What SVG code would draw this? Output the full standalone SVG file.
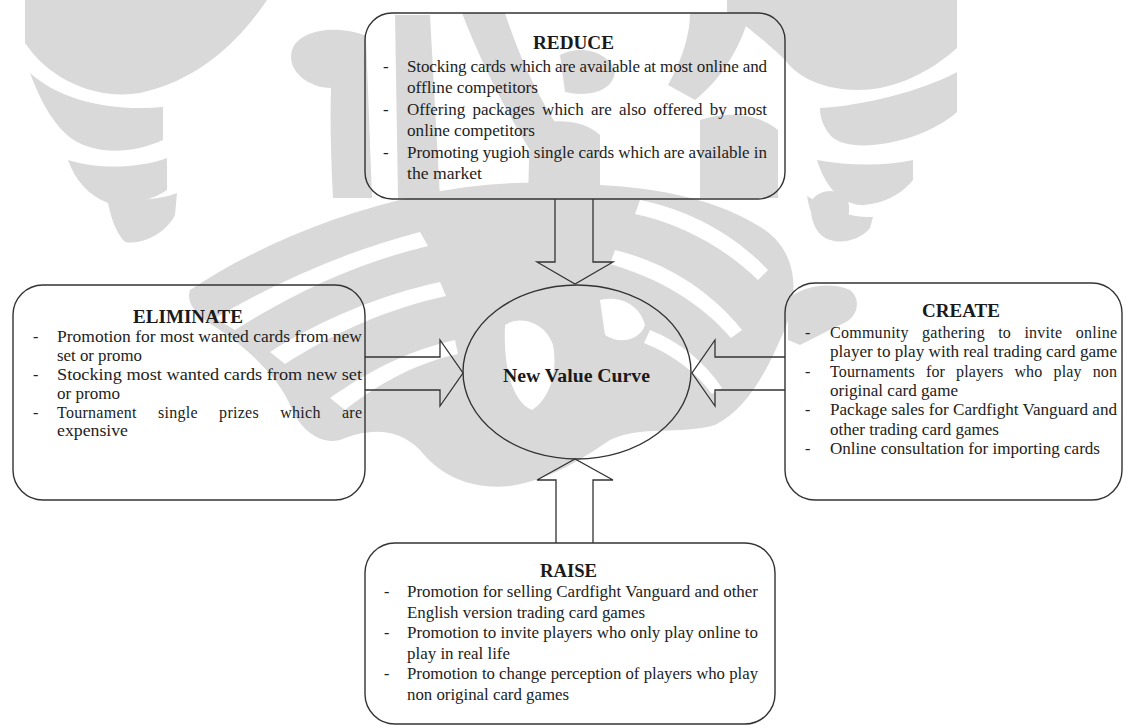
<svg xmlns="http://www.w3.org/2000/svg" width="1127" height="728" viewBox="0 0 1127 728">
  <style>
    .wm { fill: #d9d9d9; }
    .wmcut { fill: #ffffff; }
    .box { fill: none; stroke: #333333; stroke-width: 1.4; }
    .arrow { fill: none; stroke: #333333; stroke-width: 1.3; stroke-linejoin: miter; }
    .title { font-family: "Liberation Serif", "Times New Roman", serif; font-weight: bold; font-size: 18px; fill: #1a1a1a; }
    .body { font-family: "Liberation Serif", "Times New Roman", serif; font-size: 16px; fill: #222222; }
    .big { font-size: 17px; }
  </style>

  <rect width="1127" height="728" fill="#ffffff"/>

  <!-- faint emblem behind the chart -->
  <g id="watermark">
    <!-- left wing -->
    <path class="wm" d="M25,0 H267 C240,40 200,80 140,93 C95,100 50,80 25,43 Z"/>
    <path class="wm" d="M30,73 C60,100 110,112 163,107 L163,140 C130,155 90,155 67,135 C50,120 38,95 30,73 Z"/>
    <path class="wm" d="M68,160 C100,170 140,168 167,158 L167,190 C150,202 120,207 108,203 C88,195 75,180 68,160 Z"/>
    <path class="wm" d="M107,197 C130,202 160,200 177,193 L175,215 C165,235 140,245 125,242 C115,232 110,215 107,197 Z"/>
    <!-- right wing -->
    <path class="wm" d="M727,0 H957 V48 C930,72 895,90 858,90 C825,90 798,78 785,60 C770,45 745,25 727,12 Z"/>
    <path class="wm" d="M820,108 C860,106 920,92 957,72 V112 C940,127 915,138 888,143 C860,148 840,145 831,136 C823,127 820,117 820,108 Z"/>
    <path class="wm" d="M817,160 C850,166 885,166 913,160 V180 C900,196 880,205 860,205 C840,203 825,186 817,160 Z"/>
    <path class="wm" d="M807,196 C830,210 852,218 873,217 L870,228 C860,240 842,244 831,240 C818,231 810,215 807,196 Z"/>
    <!-- upper figure -->
    <path class="wm" d="M292,50 C300,28 340,25 366,36 L372,198 L333,198 C331,160 330,120 331,88 C310,88 286,72 292,50 Z"/>
    <path class="wm" d="M395,15 L430,15 L440,198 L398,198 Z"/>
    <path class="wm" d="M462,13 L505,13 C520,60 540,100 560,130 L530,150 C505,110 480,60 462,13 Z"/>
    <path class="wm" d="M530,125 C555,118 585,120 600,135 L600,198 L528,198 Z"/>
    <path class="wm" d="M560,55 C580,45 605,50 615,70 C615,90 590,98 565,92 Z"/>
    <path class="wm" d="M690,13 L750,13 C740,50 720,80 695,100 L668,85 C682,60 690,35 690,13 Z"/>
    <path class="wm" d="M700,120 C730,110 760,115 778,130 L778,198 L700,198 Z"/>
    <!-- lower flame -->
    <path class="wm" d="M190,290 C250,250 330,215 420,195 C480,182 540,180 600,185 C660,188 720,200 765,230 C800,255 800,300 780,340 C765,375 745,410 715,425 C680,435 640,425 610,440 C580,460 550,480 510,486 C470,490 440,475 420,450 C395,425 365,430 340,440 C320,445 300,430 290,405 C280,380 250,350 220,330 C200,318 185,305 190,290 Z"/>
    <path class="wmcut" d="M215,318 C280,280 350,250 420,232 L428,246 C360,262 295,292 235,330 Z"/>
    <path class="wmcut" d="M270,352 C320,320 380,295 440,282 L446,296 C390,308 335,332 285,364 Z"/>
    <path class="wmcut" d="M330,398 C370,370 410,350 455,340 L458,354 C420,362 380,382 345,410 Z"/>
    <path class="wmcut" d="M640,200 C690,210 735,235 768,270 L758,280 C725,248 682,224 635,214 Z"/>
    <path class="wmcut" d="M615,250 C665,262 710,290 742,330 L731,338 C700,302 658,278 610,264 Z"/>
    <path class="wmcut" d="M650,330 C680,342 705,362 722,388 L712,394 C696,372 672,354 644,343 Z"/>
    <path class="wmcut" d="M505,325 C520,315 545,322 553,345 C558,372 550,398 532,410 C515,403 503,375 505,325 Z"/>
    <path class="wmcut" d="M600,300 C620,295 640,305 645,325 C640,340 620,345 605,335 Z"/>
    <!-- curls on the right -->
    <path class="wm" d="M788,300 C800,286 830,281 850,290 C862,300 858,318 842,324 C828,330 815,338 800,345 L788,340 Z"/>
    <path class="wm" d="M812,200 C820,188 842,188 848,200 C852,215 845,235 830,240 C815,236 808,215 812,200 Z"/>
  </g>

  <!-- block arrows pointing at the centre -->
  <g id="connectors">
    <polyline class="arrow" points="555,199 555,262 537,262 575,284 613,262 593,262 593,199"/>
    <polyline class="arrow" points="556,543 556,480 537,480 575,459 613,480 593,480 593,543"/>
    <polyline class="arrow" points="365,357 440,357 440,340 463,373 440,406 440,390 365,390"/>
    <polyline class="arrow" points="785,357 715,357 715,340 692,373 715,406 715,390 785,390"/>
  </g>

  <g id="reduce">
    <rect class="box" x="365" y="13" width="420" height="186" rx="27"/>
    <text class="title" x="533" y="49" textLength="81" lengthAdjust="spacingAndGlyphs">REDUCE</text>
    <g class="body big">
      <text x="383" y="72">-</text>
      <text x="407" y="72" textLength="360" lengthAdjust="spacing">Stocking cards which are available at most online and</text>
      <text x="407" y="93" textLength="131" lengthAdjust="spacingAndGlyphs">offline competitors</text>
      <text x="383" y="115">-</text>
      <text x="407" y="115" textLength="360" lengthAdjust="spacing" word-spacing="3">Offering packages which are also offered by most</text>
      <text x="407" y="136" textLength="128" lengthAdjust="spacingAndGlyphs">online competitors</text>
      <text x="383" y="158">-</text>
      <text x="407" y="158" textLength="360" lengthAdjust="spacing">Promoting yugioh single cards which are available in</text>
      <text x="407" y="179" textLength="75" lengthAdjust="spacingAndGlyphs">the market</text>
    </g>
  </g>

  <g id="eliminate">
    <rect class="box" x="13" y="285" width="352" height="215" rx="30"/>
    <text class="title" x="133" y="323" textLength="110" lengthAdjust="spacingAndGlyphs">ELIMINATE</text>
    <g class="body">
      <text x="33" y="342">-</text>
      <text x="57" y="342" textLength="305" lengthAdjust="spacingAndGlyphs">Promotion for most wanted cards from new</text>
      <text x="57" y="361" textLength="85" lengthAdjust="spacingAndGlyphs">set or promo</text>
      <text x="33" y="380">-</text>
      <text x="57" y="380" textLength="305" lengthAdjust="spacingAndGlyphs">Stocking most wanted cards from new set</text>
      <text x="57" y="399" textLength="63" lengthAdjust="spacingAndGlyphs">or promo</text>
      <text x="33" y="418">-</text>
      <text x="57" y="418" textLength="305" lengthAdjust="spacing" word-spacing="17">Tournament single prizes which are</text>
      <text x="57" y="436" textLength="71" lengthAdjust="spacingAndGlyphs">expensive</text>
    </g>
  </g>

  <g id="create">
    <rect class="box" x="785" y="283" width="337" height="217" rx="30"/>
    <text class="title" x="922" y="317" textLength="78" lengthAdjust="spacingAndGlyphs">CREATE</text>
    <g class="body">
      <text x="805" y="338">-</text>
      <text x="830" y="338" textLength="287" lengthAdjust="spacing" word-spacing="9">Community gathering to invite online</text>
      <text x="830" y="357" textLength="287" lengthAdjust="spacingAndGlyphs">player to play with real trading card game</text>
      <text x="805" y="377">-</text>
      <text x="830" y="377" textLength="287" lengthAdjust="spacing" word-spacing="7">Tournaments for players who play non</text>
      <text x="830" y="396" textLength="128" lengthAdjust="spacingAndGlyphs">original card game</text>
      <text x="805" y="415">-</text>
      <text x="830" y="415" textLength="287" lengthAdjust="spacingAndGlyphs">Package sales for Cardfight Vanguard and</text>
      <text x="830" y="435" textLength="169" lengthAdjust="spacingAndGlyphs">other trading card games</text>
      <text x="805" y="454">-</text>
      <text x="830" y="454" textLength="270" lengthAdjust="spacingAndGlyphs">Online consultation for importing cards</text>
    </g>
  </g>

  <g id="raise">
    <rect class="box" x="365" y="543" width="410" height="181" rx="30"/>
    <text class="title" x="540" y="577" textLength="57" lengthAdjust="spacingAndGlyphs">RAISE</text>
    <g class="body">
      <text x="384" y="597">-</text>
      <text x="407" y="597" textLength="351" lengthAdjust="spacingAndGlyphs">Promotion for selling Cardfight Vanguard and other</text>
      <text x="407" y="618" textLength="238" lengthAdjust="spacingAndGlyphs">English version trading card games</text>
      <text x="384" y="638">-</text>
      <text x="407" y="638" textLength="351" lengthAdjust="spacingAndGlyphs">Promotion to invite players who only play online to</text>
      <text x="407" y="659" textLength="103" lengthAdjust="spacingAndGlyphs">play in real life</text>
      <text x="384" y="679">-</text>
      <text x="407" y="679" textLength="351" lengthAdjust="spacingAndGlyphs">Promotion to change perception of players who play</text>
      <text x="407" y="700" textLength="162" lengthAdjust="spacingAndGlyphs">non original card games</text>
    </g>
  </g>

  <g id="new-value-curve">
    <ellipse class="box" cx="577" cy="372" rx="114" ry="87"/>
    <text class="title" x="503" y="382" textLength="147" lengthAdjust="spacingAndGlyphs">New Value Curve</text>
  </g>
</svg>
